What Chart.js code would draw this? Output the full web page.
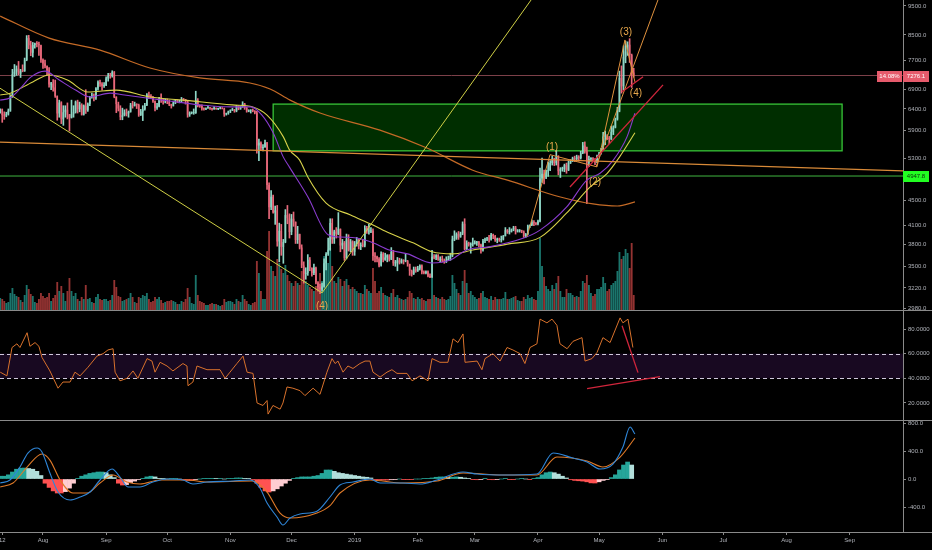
<!DOCTYPE html>
<html>
<head>
<meta charset="utf-8">
<script src="https://cdn.jsdelivr.net/npm/chart.js@4.4.1/dist/chart.umd.min.js"></script>
<style>
  html, body { margin: 0; padding: 0; background: #000; }
  #wrap { width: 932px; height: 550px; overflow: hidden; }
  .pane { position: relative; width: 932px; }
  canvas { display: block; }
</style>
</head>
<body>
<div id="wrap">
  <div class="pane" style="height:311px"><canvas id="priceChart"></canvas></div>
  <div class="pane" style="height:110px"><canvas id="rsiChart"></canvas></div>
  <div class="pane" style="height:129px"><canvas id="macdChart"></canvas></div>
</div>
<script>
// daily candles [open, high, low, close], day 0 = 11 Jul 2018
const candlesJul = [
  [6310,6400,6300,6390],[6390,6400,6080,6250],[6250,6330,6150,6240],[6240,6320,6210,6270],[6270,6400,6250,6360],
  [6360,6740,6340,6730],[6730,7450,6690,7320],[7320,7590,7250,7380],[7380,7550,7280,7470],[7470,7680,7300,7330],
  [7330,7450,7220,7410],[7410,7580,7380,7400],[7400,7780,7390,7720],[7720,8480,7700,8400],[8400,8490,8060,8170],
  [8170,8300,7850,7940],[7940,8260,7810,8180],[8180,8240,8080,8230],[8230,8290,8120,8210],[8210,8270,7860,8170],
  [8170,8180,7650,7730]
];
const candlesAug = [
  [7730,7760,7480,7620],[7620,7720,7490,7540],[7540,7550,7300,7420],[7420,7500,6960,7030],[7030,7090,6890,7050],
  [7050,7160,6850,6950],[6950,7150,6690,6720],[6720,6730,6130,6290],[6290,6620,6200,6560],[6560,6580,6050,6150],
  [6150,6480,6010,6320],[6320,6480,6200,6380],[6380,6550,6160,6260],[6260,6270,5880,6190],[6190,6620,6180,6280],
  [6280,6480,6200,6320],[6320,6600,6300,6580],[6580,6620,6300,6390],[6390,6570,6330,6500],[6500,6530,6250,6260],
  [6260,6500,6250,6480],[6480,6890,6290,6370],[6370,6550,6340,6530],[6530,6720,6480,6700],[6700,6800,6670,6740],
  [6740,6780,6600,6690],[6690,6950,6640,6920],[6920,7130,6880,7090],[7090,7150,6980,7050],[7050,7080,6880,6990],
  [6990,7080,6950,7010]
];
const candlesSep = [
  [7010,7240,7000,7190],[7190,7340,7120,7270],[7270,7340,7200,7260],[7260,7410,7230,7370],[7370,7390,6680,6700],
  [6700,6710,6310,6520],[6520,6570,6350,6410],[6410,6480,6140,6200],[6200,6420,6140,6250],[6250,6380,6230,6310],
  [6310,6400,6230,6290],[6290,6350,6200,6330],[6330,6540,6320,6490],[6490,6590,6420,6480],[6480,6570,6470,6520],
  [6520,6530,6410,6500],[6500,6520,6220,6250],[6250,6390,6240,6340],[6340,6480,6120,6390],[6390,6540,6370,6490],
  [6490,6790,6480,6760],[6760,6830,6660,6720],[6720,6760,6670,6700],[6700,6720,6560,6590],[6590,6600,6350,6430],
  [6430,6540,6390,6460],[6460,6690,6450,6640],[6640,6780,6560,6630],[6630,6640,6520,6590],[6590,6650,6550,6630]
];
const candlesOct = [
  [6630,6650,6530,6590],[6590,6620,6480,6510],[6510,6520,6420,6480],[6480,6600,6470,6560],[6560,6640,6530,6620],
  [6620,6630,6560,6590],[6590,6620,6550,6600],[6600,6690,6580,6650],[6650,6660,6600,6640],[6640,6640,6520,6590],
  [6590,6590,6200,6260],[6260,6330,6220,6300],[6300,6330,6280,6300],[6300,6400,6270,6300],[6300,6850,6290,6620],
  [6620,6660,6450,6480],[6480,6500,6440,6470],[6470,6500,6370,6410],[6410,6430,6370,6390],[6390,6430,6380,6420],
  [6420,6480,6410,6420],[6420,6440,6390,6410],[6410,6420,6370,6400],[6400,6460,6390,6420],[6420,6430,6390,6400],
  [6400,6420,6380,6410],[6410,6440,6400,6420],[6420,6430,6400,6410],[6410,6420,6220,6270],[6270,6300,6250,6290],
  [6290,6350,6270,6340]
];
const candlesNov = [
  [6340,6380,6310,6370],[6370,6420,6360,6380],[6380,6390,6320,6350],[6350,6490,6330,6470],[6470,6480,6380,6410],
  [6410,6460,6390,6450],[6450,6580,6440,6530],[6530,6540,6390,6420],[6420,6440,6320,6340],[6340,6380,6330,6360],
  [6360,6380,6300,6370],[6370,6400,6330,6350],[6350,6360,6280,6310],[6310,6340,5400,5560],[5560,5700,5250,5620],
  [5620,5640,5460,5510],[5510,5580,5450,5530],[5530,5680,5520,5620],[5620,5630,4700,4780],[4780,4820,4200,4390],
  [4390,4680,4350,4570],[4570,4600,4290,4300],[4300,4410,4110,4340],[4340,4420,3780,3850],[3850,4130,3560,4010],
  [4010,4110,3650,3770],[3770,3880,3540,3840],[3840,4350,3830,4260],[4260,4420,4120,4210],[4210,4280,3900,3990]
];
const candlesDec = [
  [3990,4270,3950,4200],[4200,4310,4080,4150],[4150,4150,3820,3870],[3870,4080,3820,3960],[3960,3960,3740,3760],
  [3760,3800,3480,3510],[3510,3560,3280,3400],[3400,3480,3330,3410],[3410,3660,3380,3590],[3590,3620,3440,3480],
  [3480,3480,3370,3410],[3410,3530,3390,3480],[3480,3490,3270,3290],[3290,3300,3180,3230],[3230,3270,3150,3200],
  [3200,3280,3180,3240],[3240,3600,3230,3540],[3540,3690,3450,3670],[3670,3900,3650,3730],[3730,4200,3720,4130],
  [4130,4200,3820,3880],[3880,4020,3820,4000],[4000,4060,3900,3960],[3960,4300,3950,4040],[4040,4040,3700,3790],
  [3790,3880,3740,3830],[3830,3850,3580,3610],[3610,3960,3600,3880],[3880,3950,3710,3720],[3720,3880,3700,3850],
  [3850,3860,3650,3700]
];
const candlesJan = [
  [3700,3850,3650,3820],[3820,3910,3780,3880],[3880,3880,3740,3780],[3780,3830,3730,3800],[3800,3870,3770,3790],
  [3790,4090,3770,4050],[4050,4080,3970,4000],[4000,4110,3960,4000],[4000,4060,3980,4010],[4010,4040,3580,3640],
  [3640,3690,3560,3630],[3630,3640,3560,3600],[3600,3620,3490,3510],[3510,3700,3500,3670],[3670,3690,3560,3590],
  [3590,3680,3580,3620],[3620,3660,3560,3650],[3650,3660,3570,3590],[3590,3760,3590,3700],[3700,3720,3510,3540],
  [3540,3580,3500,3540],[3540,3620,3440,3580],[3580,3610,3530,3550],[3550,3600,3540,3580],[3580,3590,3530,3570],
  [3570,3670,3560,3570],[3570,3580,3500,3530],[3530,3530,3380,3440],[3440,3450,3370,3400],[3400,3490,3390,3460],
  [3460,3490,3420,3440]
];
const candlesFeb = [
  [3440,3500,3430,3470],[3470,3520,3450,3510],[3510,3520,3400,3420],[3420,3440,3400,3410],[3410,3440,3400,3430],
  [3430,3440,3360,3370],[3370,3400,3350,3360],[3360,3720,3350,3630],[3630,3660,3600,3620],[3620,3660,3590,3650],
  [3650,3660,3580,3590],[3590,3630,3560,3600],[3600,3640,3560,3580],[3580,3600,3540,3560],[3560,3630,3550,3580],
  [3580,3640,3580,3600],[3600,3680,3580,3640],[3640,3930,3630,3880],[3880,4010,3860,3900],[3900,3980,3880,3960],
  [3960,4000,3880,3920],[3920,3990,3910,3970],[3970,4150,3950,4120],[4120,4200,3730,3740],[3740,3860,3730,3830],
  [3830,3840,3780,3800],[3800,3830,3680,3810],[3810,3900,3780,3820]
];
const candlesMar = [
  [3820,3860,3810,3830],[3830,3850,3790,3840],[3840,3850,3770,3800],[3800,3810,3680,3720],[3720,3880,3710,3860],
  [3860,3900,3830,3880],[3880,3910,3860,3890],[3890,3940,3840,3880],[3880,3970,3870,3950],[3950,3960,3890,3930],
  [3930,3940,3850,3870],[3870,3900,3830,3890],[3890,3900,3850,3870],[3870,3930,3840,3880],[3880,3940,3870,3930],
  [3930,4060,3930,4020],[4020,4030,3970,3990],[3990,4060,3960,4000],[4000,4040,3990,4030],[4030,4080,4010,4060],
  [4060,4080,3960,4000],[4000,4030,3990,4010],[4010,4030,3990,4010],[4010,4020,3980,4000],[4000,4010,3910,3930],
  [3930,3970,3910,3960],[3960,4100,3950,4090],[4090,4100,4060,4100],[4100,4180,4090,4150],[4150,4170,4090,4130],
  [4130,4140,4100,4120]
];
const candlesApr = [
  [4120,4180,4100,4160],[4160,5100,4150,4900],[4900,5300,4830,4990],[4990,5060,4800,4920],[4920,5060,4900,5040],
  [5040,5220,4940,5060],[5060,5250,5050,5200],[5200,5340,5160,5290],[5290,5300,5150,5200],[5200,5460,5160,5320],
  [5320,5350,4970,5040],[5040,5110,4920,5080],[5080,5120,5040,5080],[5080,5180,5030,5160],[5160,5200,5000,5060],
  [5060,5240,5050,5210],[5210,5270,5190,5240],[5240,5320,5230,5300],[5300,5340,5230,5280],[5280,5360,5260,5330],
  [5330,5350,5240,5300],[5300,5440,5280,5400],[5400,5630,5390,5560],[5560,5640,5400,5440],[5440,5530,4450,5210],
  [5210,5340,5130,5280],[5280,5310,5240,5290],[5290,5310,5230,5270],[5270,5290,5170,5230],[5230,5360,5210,5350]
];
const candlesMay = [
  [5350,5420,5340,5390],[5390,5500,5380,5470],[5470,5850,5460,5760],[5760,5880,5580,5780],[5780,5800,5690,5730],
  [5730,5760,5600,5700],[5700,5990,5690,5860],[5860,6000,5800,5960],[5960,6180,5950,6150],[6150,6440,6130,6340],
  [6340,7400,6330,7210],[7210,7550,6800,6980],[6980,8150,6880,7810],[7810,8300,7640,7980],[7980,8280,7860,8190],
  [8190,8380,7650,7870],[7870,7900,6950,7360],[7360,7480,7230,7276.1]
];

// daily volume (relative units)
const volJul = [13,12,10,8,9,18,23,17,15,14,11,9,16,26,22,17,15,9,8,12,18];
const volAug = [15,13,14,18,10,13,16,29,20,25,18,10,20,33,20,15,18,12,10,14,12,26,12,13,9,8,14,17,12,11,12];
const volSep = [12,10,11,16,31,24,15,14,10,11,12,13,18,14,9,8,14,13,16,15,18,12,9,10,14,12,14,11,8,9];
const volOct = [10,10,11,10,9,7,7,10,9,12,23,14,8,7,36,16,10,9,8,6,6,7,8,7,7,6,5,6,12,9,10];
const volNov = [10,9,7,12,10,9,16,12,10,7,6,8,9,50,38,20,12,12,60,80,45,40,35,52,48,42,38,46,36,30];
const volDec = [28,25,30,28,26,40,42,30,26,24,22,20,25,27,38,30,55,50,48,63,45,30,28,34,32,25,30,32,26,22,24];
const volJan = [22,20,18,18,17,26,22,20,18,43,30,18,20,24,18,16,15,14,18,22,14,16,13,12,11,12,14,20,18,13,12];
const volFeb = [14,12,13,11,10,12,12,33,16,14,13,12,14,12,11,12,15,36,28,22,18,16,30,41,28,18,20,16];
const volMar = [14,12,13,18,20,14,13,12,15,11,14,12,12,12,13,19,12,12,13,14,15,11,10,10,14,12,16,13,14,12,11];
const volApr = [20,73,45,34,25,22,20,26,22,28,35,20,14,14,22,18,18,16,14,15,14,20,30,28,36,26,18,15,17,22];
const volMay = [22,24,34,28,20,22,26,28,30,40,59,52,55,62,58,43,68,16];

// moving averages [day, price]
const ma20 = [[0,6620],[5,6680],[10,6930],[15,7230],[22,7400],[29,7150],[37,6880],[44,6700],[54,6800],[61,6750],
  [71,6680],[83,6600],[98,6500],[113,6450],[123,6450],[128.5,6250],[134,5840],[139,5320],[142,5120],[151,4570],
  [161,3950],[167,3915],[175,3900],[183,3830],[191,3725],[200,3670],[212,3545],[221,3585],[229,3725],[240,3770],
  [257,3900],[265,4020],[278,4390],[288,4870],[294.5,5000],[301,5260],[307.7,5750],[311.6,6300]];
const ma50 = [[0,6750],[5,6800],[16,7100],[24,7290],[33,7150],[43,6830],[57,6880],[73.5,6700],[90,6620],[114,6500],
  [124,6450],[131,6250],[139,5750],[142,5470],[147,5260],[151,4930],[160,4460],[172,4260],[183,4100],[191,3975],
  [203,3825],[212,3700],[222,3670],[232,3725],[249,3810],[265,3910],[278,4290],[289.5,4740],[298,5000],[304,5320],
  [311.6,5840]];
const ma200 = [[0,9140],[24,8400],[49,8020],[73.5,7490],[98,7210],[122.6,7070],[132.5,6910],[142.3,6620],[157,6300],
  [186.4,5900],[209.5,5510],[232,5060],[249,4870],[275,4565],[291,4445],[303,4410],[311.6,4480]];

// RSI [day, value]
const rsiPoints = [[0,45],[3.3,42],[5.8,65],[8.2,68],[9.7,65],[13.2,77],[14.6,66],[17.1,69],[19,66],[20.5,57],
  [24.4,46],[28.4,32],[30.8,37],[34.3,37],[36.7,45],[39.2,42],[43.1,49],[47.5,58],[50.5,60],[52.9,63],
  [55.4,64],[56.4,45],[58.8,38],[62.2,40],[65.2,46],[67.6,40],[72.1,56],[74.5,54],[76,45],[78.5,53],
  [81.9,50],[84.8,46],[89.7,52],[91.7,50],[92.2,34],[94.6,37],[96.6,50],[101.5,47],[107.9,47],[110.4,40],
  [112.8,45],[116.2,52],[119.2,58],[121.2,45],[124.1,44],[126.1,20],[129,18],[131,22],[131.5,11],[133.9,18],
  [137.4,15],[138.8,20],[140.8,33],[143.7,32],[147.2,30],[149.6,26],[153.6,32],[157,27],[160.4,45],[162.9,56],
  [164.4,52],[165.8,54],[168.3,45],[170.7,50],[173.2,48],[176.6,52],[179.1,54],[181.5,54],[183,45],[186.5,41],
  [189.9,45],[192.3,47],[194.8,44],[199.7,44],[202.2,38],[206.1,42],[210,38],[212,56],[215.9,53],[219.8,53],
  [222.3,72],[224.7,69],[227.2,76],[228.2,53],[234.1,54],[236.5,47],[238,56],[241.9,60],[245.4,54],[248.8,65],
  [251.7,63],[255.2,60],[257.6,52],[260.1,65],[263.5,68],[265,88],[268.4,85],[270.9,88],[273.3,83],[274.8,68],
  [278.3,64],[281.2,70],[285.6,73],[287.1,54],[290.5,56],[293,61],[295.9,73],[299.4,69],[304.3,89],[305.7,85],
  [308.2,88],[310.6,65]];

// MACD [day, value]
const macdLine = [[0,-57],[4.8,-14],[9.7,171],[13.6,371],[18.1,443],[20.5,386],[24.4,86],[28.4,-186],[34.3,-300],
  [39.2,-257],[44.1,-186],[49,-14],[54.9,143],[58.8,29],[62.7,-114],[68.6,-114],[75,-43],[81.9,0],[89.7,-14],
  [94.6,-71],[101.5,-43],[114.3,-29],[122.6,-14],[127.5,-129],[131,-343],[135.9,-543],[138.8,-657],[142.3,-557],
  [147.2,-500],[155.5,-460],[161.9,-257],[166.8,-86],[173.2,-43],[181.5,0],[186.5,-57],[197.7,-57],[206.1,-71],
  [214.4,-14],[227.2,100],[234.1,71],[246.8,57],[263.5,71],[271.4,371],[281.2,300],[288.1,243],[294.5,143],
  [300.8,214],[305.7,457],[309.2,743],[311.6,643]];
const signalLine = [[0,-114],[6.3,-57],[13.2,171],[20.5,357],[24.4,271],[29.4,-14],[35.7,-200],[42.6,-200],[49,-57],
  [55.4,57],[62.2,-43],[68.6,-71],[78.4,-14],[91.7,-14],[101.5,-43],[124.1,-29],[131,-186],[137.4,-486],[142.3,-557],
  [155.5,-486],[161.9,-380],[166.8,-200],[181.5,-14],[197.7,-57],[214.4,-29],[227.2,86],[246.8,57],[263.5,57],
  [273.3,314],[288.1,257],[295.9,171],[304.3,314],[311.6,586]];
// histogram, one value every 2 days from day 0
const macdHist = [
  40,40,60,100,140,155,157,150,140,110,
  50,-60,-120,-170,-200,-200,-180,-130,-60,10,
  40,60,80,90,100,100,90,60,20,-60,
  -86,-80,-50,-30,-10,10,30,40,30,10,
  5,0,5,5,0,-10,-20,-20,-10,0,
  5,10,10,5,5,0,5,10,15,15,
  10,5,-10,-60,-120,-170,-186,-170,-140,-100,
  -60,-20,10,20,30,30,30,40,50,80,
  129,129,110,90,80,70,60,50,40,30,
  25,15,-10,-15,-15,-15,-10,-5,0,-5,
  -5,-5,0,0,5,10,15,25,30,30,
  25,25,30,25,15,5,-5,-10,-5,5,
  -5,-10,-5,0,5,-5,-5,0,5,0,
  -5,5,20,60,90,100,90,70,40,15,
  -10,-20,-25,-30,-40,-55,-57,-40,-20,-5,
  20,60,130,200,243,200
];

// axes
const monthTickDays = [1,21,52,82,113,143,174,205,233,264,294,325,355,386,417];
const monthLabels = ['12','Aug','Sep','Oct','Nov','Dec','2019','Feb','Mar','Apr','May','Jun','Jul','Aug','Sep'];
const priceTicks = [9500,8500,7700,6900,6400,5900,5300,4500,4100,3800,3500,3220,2980];
const rsiTicks = [80,60,40,20];
const macdTicks = [800,400,0,-400];

// drawings on the price pane
const lastPrice = 7276.1;
const lastChange = '14.08%';
const supportLevel = 4947.8;
const zoneBox = { fromDay: 134, toDay: 413.3, low: 5450, high: 6520 };
const longLine = [[-0.1,5635],[443.2,5045]];
const yellowLines = [[[-0.1,6930],[158,3160]], [[158,3160],[260.6,9720]]];
const wavePath = [[258.6,3920],[269.9,5370],[293,5125],[306.7,8340],[311.6,7100]];
const waveChannel = [[292.5,5125],[322.9,9720]];
const redLines = [[[279.7,4743],[325.4,7020]], [[305.3,6835],[315.6,7240]]];
const waveLabels = [['(1)',270.9,5530],['(2)',292,4840],['(3)',307.2,8600],['(4)',312.1,6800],['(4)',158,3003]];
const rsiRedLines = [[[288.1,31.6],[323.9,41.4]], [[305.3,82.7],[313.1,44.6]]];

const X_MIN = -0.1, X_MAX = 443.2;
const AXIS_W = 29;
const textColor = '#b0b3ba';
const lineColor = '#8a8a8a';
const smallFont = { family: '"Liberation Sans Narrow", "Liberation Sans", sans-serif', size: 6 };
const upColor = '#8fd6c6', downColor = '#e8687a';
const volUp = 'rgba(38,166,154,0.7)', volDown = 'rgba(239,83,80,0.62)';

const candles = [candlesJul, candlesAug, candlesSep, candlesOct, candlesNov, candlesDec,
  candlesJan, candlesFeb, candlesMar, candlesApr, candlesMay].flat();
const volumes = [volJul, volAug, volSep, volOct, volNov, volDec,
  volJan, volFeb, volMar, volApr, volMay].flat();
const isUp = candles.map(c => c[3] >= c[0]);
const toXY = arr => arr.map(p => ({ x: p[0], y: p[1] }));

function xScale(show) {
  return {
    type: 'linear', min: X_MIN, max: X_MAX, display: show, offset: false,
    grid: { display: show, offset: false, drawOnChartArea: false, drawTicks: true, tickLength: 3, color: lineColor },
    border: { display: show, color: lineColor },
    ticks: {
      color: textColor, font: smallFont, padding: 2, autoSkip: false, maxRotation: 0,
      callback: v => monthLabels[monthTickDays.indexOf(v)]
    },
    afterBuildTicks: s => { s.ticks = monthTickDays.map(v => ({ value: v })); },
    afterFit: s => {
      s.height = show ? 18 : 0;
      s.paddingLeft = s.paddingRight = s.paddingTop = s.paddingBottom = 0;
    }
  };
}

function rightAxis(extra, tickValues, digits) {
  return Object.assign({
    position: 'right',
    grid: { drawOnChartArea: false, drawTicks: true, tickLength: 3, color: lineColor },
    border: { display: true, color: lineColor },
    ticks: { color: textColor, font: smallFont, padding: 2, autoSkip: false, callback: v => Number(v).toFixed(digits) },
    afterBuildTicks: s => { s.ticks = tickValues.map(v => ({ value: v })); },
    afterFit: s => {
      s.width = AXIS_W;
      s.paddingLeft = s.paddingRight = s.paddingTop = s.paddingBottom = 0;
    }
  }, extra);
}

const baseOptions = {
  responsive: true, maintainAspectRatio: false, animation: false,
  layout: { padding: 0, autoPadding: false },
  plugins: { legend: { display: false }, tooltip: { enabled: false } }
};

function clipTo(ctx, a) {
  ctx.beginPath();
  ctx.rect(a.left, a.top, a.right - a.left, a.bottom - a.top);
  ctx.clip();
}

function segment(chart, p1, p2, color, width) {
  const { ctx, scales: { x, y } } = chart;
  ctx.strokeStyle = color;
  ctx.lineWidth = width;
  ctx.beginPath();
  ctx.moveTo(x.getPixelForValue(p1[0]), y.getPixelForValue(p1[1]));
  ctx.lineTo(x.getPixelForValue(p2[0]), y.getPixelForValue(p2[1]));
  ctx.stroke();
}

function separator(chart) {
  const { ctx, chartArea: a } = chart;
  ctx.save();
  ctx.strokeStyle = lineColor;
  ctx.lineWidth = 1;
  ctx.beginPath();
  const yy = Math.min(a.bottom, chart.height - 1) + 0.5;
  ctx.moveTo(0, yy);
  ctx.lineTo(chart.width, yy);
  ctx.stroke();
  ctx.restore();
}

function priceTag(ctx, left, w, yPix, text, bg, fg) {
  ctx.fillStyle = bg;
  ctx.fillRect(left, Math.round(yPix) - 5, w, 11);
  ctx.fillStyle = fg;
  ctx.font = '6px "Liberation Sans Narrow", "Liberation Sans", sans-serif';
  ctx.textAlign = 'center';
  ctx.textBaseline = 'middle';
  ctx.fillText(text, left + w / 2, Math.round(yPix) + 0.5);
}

const priceDrawings = {
  id: 'priceDrawings',
  beforeDatasetsDraw(chart) {
    const { ctx, chartArea: a, scales: { x, y } } = chart;
    ctx.save();
    clipTo(ctx, a);
    const zx1 = x.getPixelForValue(zoneBox.fromDay), zx2 = x.getPixelForValue(zoneBox.toDay);
    const zy1 = y.getPixelForValue(zoneBox.high), zy2 = y.getPixelForValue(zoneBox.low);
    ctx.fillStyle = 'rgba(0,120,0,0.38)';
    ctx.fillRect(zx1, zy1, zx2 - zx1, zy2 - zy1);
    ctx.strokeStyle = '#37c437';
    ctx.lineWidth = 1.3;
    ctx.strokeRect(zx1, zy1, zx2 - zx1, zy2 - zy1);
    segment(chart, [X_MIN, lastPrice], [X_MAX, lastPrice], '#7c4049', 1);
    segment(chart, [X_MIN, supportLevel], [X_MAX, supportLevel], '#41b641', 1);
    ctx.restore();
  },
  afterDatasetsDraw(chart) {
    const { ctx, chartArea: a, scales: { x, y } } = chart;
    ctx.save();
    clipTo(ctx, a);
    segment(chart, longLine[0], longLine[1], '#d98a38', 1.2);
    yellowLines.forEach(l => segment(chart, l[0], l[1], '#cfcf45', 1));
    for (let i = 1; i < wavePath.length; i++) segment(chart, wavePath[i - 1], wavePath[i], '#e0923e', 1);
    segment(chart, waveChannel[0], waveChannel[1], '#e0923e', 1);
    redLines.forEach(l => segment(chart, l[0], l[1], '#d0263c', 1.3));
    ctx.font = '10px "Liberation Sans", sans-serif';
    ctx.textAlign = 'center';
    ctx.textBaseline = 'middle';
    ctx.fillStyle = '#e8a84c';
    waveLabels.forEach(([t, d, p]) => ctx.fillText(t, x.getPixelForValue(d), y.getPixelForValue(p)));
    ctx.restore();
  },
  afterDraw(chart) {
    const { ctx, chartArea: a, scales: { y } } = chart;
    ctx.save();
    priceTag(ctx, a.right - 26, 25, y.getPixelForValue(lastPrice), lastChange, '#e65b6c', '#fff');
    priceTag(ctx, a.right, 26, y.getPixelForValue(lastPrice), lastPrice.toFixed(1), '#e65b6c', '#fff');
    priceTag(ctx, a.right, 26, y.getPixelForValue(supportLevel), supportLevel.toFixed(1), '#22ff22', '#0a300a');
    ctx.restore();
    separator(chart);
  }
};

new Chart(document.getElementById('priceChart'), {
  type: 'bar',
  data: {
    datasets: [
      { label: 'Volume', yAxisID: 'yVol', data: volumes.map((v, i) => ({ x: i, y: v })),
        backgroundColor: isUp.map(u => u ? volUp : volDown), grouped: false,
        barPercentage: 0.9, categoryPercentage: 1, order: 10 },
      { label: 'Wicks', yAxisID: 'y', data: candles.map((c, i) => ({ x: i, y: [c[2], c[1]] })),
        backgroundColor: isUp.map(u => u ? upColor : downColor), grouped: false,
        barThickness: 1, order: 9 },
      { label: 'Bodies', yAxisID: 'y', data: candles.map((c, i) => ({ x: i, y: [c[0], c[3]] })),
        backgroundColor: isUp.map(u => u ? upColor : downColor), grouped: false,
        barPercentage: 0.75, categoryPercentage: 1, minBarLength: 1, order: 8 },
      { type: 'line', label: 'MA 200', yAxisID: 'y', data: toXY(ma200), borderColor: '#c46a26',
        borderWidth: 1.2, pointRadius: 0, cubicInterpolationMode: 'monotone', order: 3 },
      { type: 'line', label: 'MA 50', yAxisID: 'y', data: toXY(ma50), borderColor: '#d8d24a',
        borderWidth: 1.1, pointRadius: 0, cubicInterpolationMode: 'monotone', order: 2 },
      { type: 'line', label: 'MA 20', yAxisID: 'y', data: toXY(ma20), borderColor: '#8a3ccf',
        borderWidth: 1.1, pointRadius: 0, cubicInterpolationMode: 'monotone', order: 1 }
    ]
  },
  options: Object.assign({}, baseOptions, {
    scales: {
      x: xScale(false),
      y: rightAxis({ type: 'logarithmic', min: 2948, max: 9721 }, priceTicks, 1),
      yVol: { type: 'linear', display: false, min: 0, max: 311 }
    }
  }),
  plugins: [priceDrawings]
});

const rsiDrawings = {
  id: 'rsiDrawings',
  beforeDatasetsDraw(chart) {
    const { ctx, chartArea: a, scales: { y } } = chart;
    const y60 = y.getPixelForValue(60), y40 = y.getPixelForValue(40);
    ctx.save();
    ctx.fillStyle = 'rgba(110,40,150,0.22)';
    ctx.fillRect(0, y60, a.right, y40 - y60);
    ctx.strokeStyle = '#cfc8dc';
    ctx.lineWidth = 1;
    ctx.setLineDash([4, 3]);
    [y60, y40].forEach(yy => {
      ctx.beginPath();
      ctx.moveTo(0, Math.round(yy) + 0.5);
      ctx.lineTo(a.right, Math.round(yy) + 0.5);
      ctx.stroke();
    });
    ctx.restore();
  },
  afterDatasetsDraw(chart) {
    const { ctx, chartArea: a } = chart;
    ctx.save();
    clipTo(ctx, a);
    rsiRedLines.forEach(l => segment(chart, l[0], l[1], '#d0263c', 1.3));
    ctx.restore();
  },
  afterDraw: separator
};

new Chart(document.getElementById('rsiChart'), {
  type: 'line',
  data: {
    datasets: [
      { label: 'RSI', data: toXY(rsiPoints), borderColor: '#d9722c', borderWidth: 1,
        pointRadius: 0, tension: 0 }
    ]
  },
  options: Object.assign({}, baseOptions, {
    scales: {
      x: xScale(false),
      y: rightAxis({ type: 'linear', min: 5.4, max: 94.6 }, rsiTicks, 4)
    }
  }),
  plugins: [rsiDrawings]
});

const histColors = macdHist.map((v, i) => {
  const prev = i > 0 ? macdHist[i - 1] : v;
  if (v >= 0) return v >= prev ? '#26a69a' : '#b2dfdb';
  return v <= prev ? '#ff5252' : '#ffcdd2';
});

new Chart(document.getElementById('macdChart'), {
  type: 'bar',
  data: {
    datasets: [
      { label: 'Histogram', data: macdHist.map((v, i) => ({ x: i * 2, y: v })),
        backgroundColor: histColors, grouped: false, barPercentage: 1, categoryPercentage: 1, order: 3 },
      { type: 'line', label: 'Signal', data: toXY(signalLine), borderColor: '#e07a28', borderWidth: 1.1,
        pointRadius: 0, cubicInterpolationMode: 'monotone', order: 2 },
      { type: 'line', label: 'MACD', data: toXY(macdLine), borderColor: '#2f86d8', borderWidth: 1.1,
        pointRadius: 0, cubicInterpolationMode: 'monotone', order: 1 }
    ]
  },
  options: Object.assign({}, baseOptions, {
    scales: {
      x: xScale(true),
      y: rightAxis({ type: 'linear', min: -757, max: 829 }, macdTicks, 1)
    }
  }),
  plugins: [{ id: 'macdSep', afterDraw: separator }]
});
</script>
</body>
</html>
